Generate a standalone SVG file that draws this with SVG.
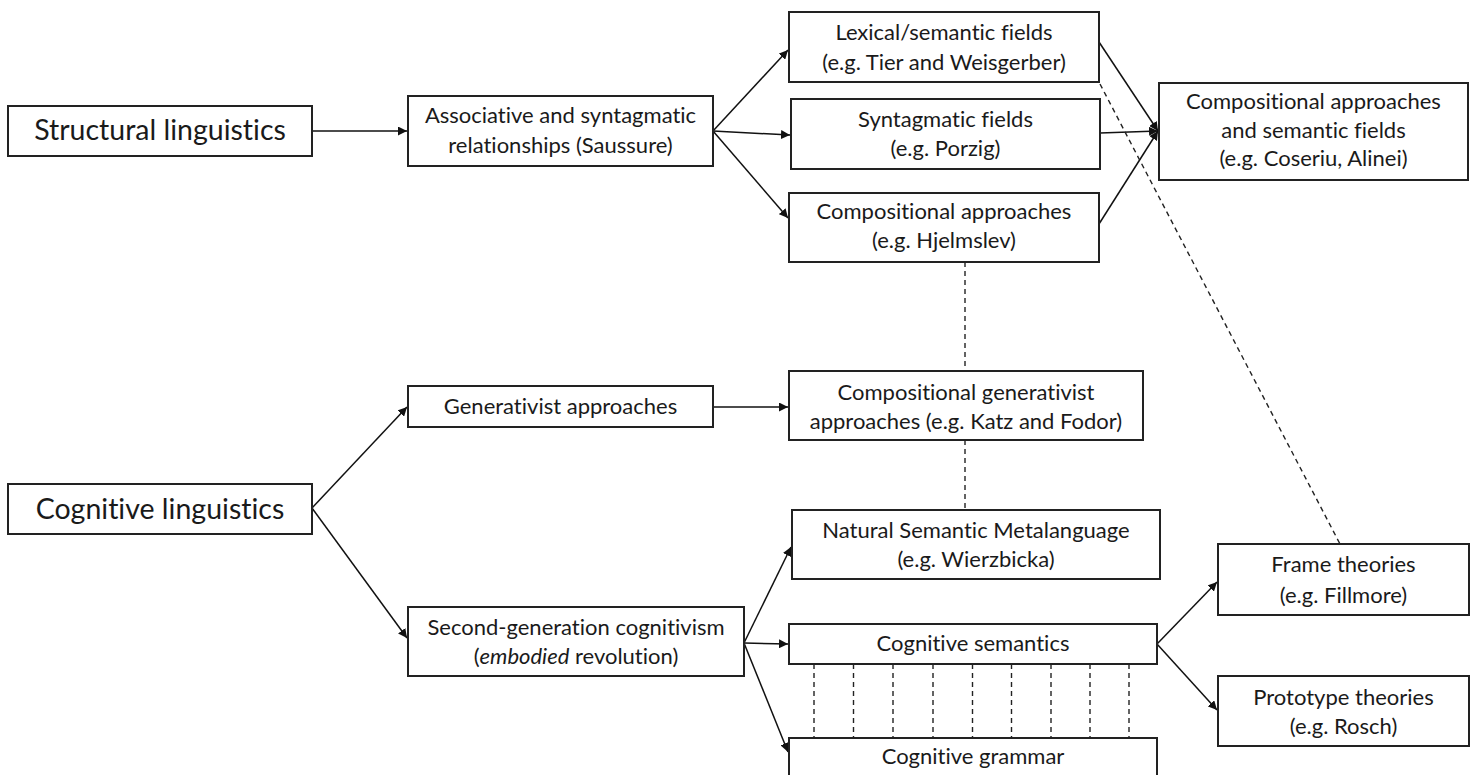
<svg xmlns="http://www.w3.org/2000/svg" width="1475" height="775" viewBox="0 0 1475 775">
  <defs>
    <marker id="arrow" viewBox="0 0 10 10" refX="10" refY="5" markerWidth="9" markerHeight="9" markerUnits="userSpaceOnUse" orient="auto">
      <path d="M0,0 L10,5 L0,10 z" fill="#111"/>
    </marker>
    <style>
      .box { fill: #fff; stroke: #222; stroke-width: 2; }
      .lbl { font-family: Lato, "Liberation Sans", sans-serif; font-size: 22px; fill: #1a1a1a; text-anchor: middle; font-variant-ligatures: none; }
      .big { font-size: 28.5px; }
      .link { fill: none; stroke: #111; stroke-width: 1.5; }
      .arr { marker-end: url(#arrow); }
      .dash { fill: none; stroke: #222; stroke-width: 1.4; stroke-dasharray: 5 4; }
    </style>
  </defs>
  <rect width="1475" height="775" fill="#fff"/>

  <!-- connectors -->
  <g id="connectors">
    <line class="link arr" x1="312" y1="131" x2="407" y2="131"/>
    <line class="link arr" x1="713" y1="131" x2="788" y2="50"/>
    <line class="link arr" x1="713" y1="131" x2="790" y2="135"/>
    <line class="link arr" x1="713" y1="131" x2="788" y2="218"/>
    <line class="link arr" x1="1099" y1="42" x2="1158" y2="131"/>
    <line class="link arr" x1="1100" y1="133" x2="1158" y2="131"/>
    <line class="link arr" x1="1099" y1="224" x2="1158" y2="131"/>
    <line class="dash" x1="1100" y1="84" x2="1340" y2="544"/>
    <line class="dash" x1="965" y1="262" x2="965" y2="371"/>
    <line class="dash" x1="965" y1="440" x2="965" y2="510"/>
    <line class="link arr" x1="312" y1="508" x2="407" y2="407"/>
    <line class="link arr" x1="312" y1="508" x2="407" y2="638"/>
    <line class="link arr" x1="713" y1="407" x2="788" y2="407"/>
    <line class="link arr" x1="744" y1="643" x2="791" y2="547"/>
    <line class="link arr" x1="744" y1="643" x2="788" y2="644"/>
    <line class="link arr" x1="744" y1="643" x2="788" y2="752"/>
    <line class="link arr" x1="1157" y1="644" x2="1217" y2="582"/>
    <line class="link arr" x1="1157" y1="644" x2="1217" y2="710"/>
    <g id="semantics-grammar-ties">
      <line class="dash" x1="814" y1="664" x2="814" y2="738"/>
      <line class="dash" x1="853.5" y1="664" x2="853.5" y2="738"/>
      <line class="dash" x1="893" y1="664" x2="893" y2="738"/>
      <line class="dash" x1="933" y1="664" x2="933" y2="738"/>
      <line class="dash" x1="972.5" y1="664" x2="972.5" y2="738"/>
      <line class="dash" x1="1011.5" y1="664" x2="1011.5" y2="738"/>
      <line class="dash" x1="1051" y1="664" x2="1051" y2="738"/>
      <line class="dash" x1="1090" y1="664" x2="1090" y2="738"/>
      <line class="dash" x1="1129" y1="664" x2="1129" y2="738"/>
    </g>
  </g>

  <g id="structural">
    <rect class="box" x="8" y="106" width="304" height="50"/>
    <text class="lbl big" x="160" y="140">Structural linguistics</text>
  </g>
  <g id="saussure">
    <rect class="box" x="408" y="96" width="305" height="70"/>
    <text class="lbl" x="560.5" y="123">Associative and syntagmatic</text>
    <text class="lbl" x="560.5" y="153">relationships (Saussure)</text>
  </g>
  <g id="lexical-fields">
    <rect class="box" x="789" y="12" width="310" height="70"/>
    <text class="lbl" x="944" y="40">Lexical/semantic fields</text>
    <text class="lbl" x="944" y="70">(e.g. Tier and Weisgerber)</text>
  </g>
  <g id="syntagmatic-fields">
    <rect class="box" x="791" y="99" width="309" height="70"/>
    <text class="lbl" x="945.5" y="127">Syntagmatic fields</text>
    <text class="lbl" x="945.5" y="156">(e.g. Porzig)</text>
  </g>
  <g id="hjelmslev">
    <rect class="box" x="789" y="193" width="310" height="69"/>
    <text class="lbl" x="944" y="219">Compositional approaches</text>
    <text class="lbl" x="944" y="248">(e.g. Hjelmslev)</text>
  </g>
  <g id="coseriu">
    <rect class="box" x="1159" y="83" width="309" height="97"/>
    <text class="lbl" x="1313.5" y="109">Compositional approaches</text>
    <text class="lbl" x="1313.5" y="138">and semantic fields</text>
    <text class="lbl" x="1313.5" y="166">(e.g. Coseriu, Alinei)</text>
  </g>
  <g id="cognitive">
    <rect class="box" x="8" y="484" width="304" height="50"/>
    <text class="lbl big" x="160" y="519">Cognitive linguistics</text>
  </g>
  <g id="generativist">
    <rect class="box" x="408" y="386" width="305" height="41"/>
    <text class="lbl" x="560.5" y="414">Generativist approaches</text>
  </g>
  <g id="katz-fodor">
    <rect class="box" x="789" y="371" width="354" height="69"/>
    <text class="lbl" x="966" y="400">Compositional generativist</text>
    <text class="lbl" x="966" y="429">approaches (e.g. Katz and Fodor)</text>
  </g>
  <g id="second-generation">
    <rect class="box" x="408" y="607" width="336" height="69"/>
    <text class="lbl" x="576" y="635">Second-generation cognitivism</text>
    <text class="lbl" x="576" y="664">(<tspan font-style="italic">embodied</tspan> revolution)</text>
  </g>
  <g id="nsm">
    <rect class="box" x="792" y="510" width="368" height="69"/>
    <text class="lbl" x="976" y="538">Natural Semantic Metalanguage</text>
    <text class="lbl" x="976" y="567">(e.g. Wierzbicka)</text>
  </g>
  <g id="cognitive-semantics">
    <rect class="box" x="789" y="624" width="368" height="40"/>
    <text class="lbl" x="973" y="651">Cognitive semantics</text>
  </g>
  <g id="cognitive-grammar">
    <rect class="box" x="789" y="738" width="368" height="42"/>
    <text class="lbl" x="973" y="764">Cognitive grammar</text>
  </g>
  <g id="frame-theories">
    <rect class="box" x="1218" y="544" width="251" height="71"/>
    <text class="lbl" x="1343.5" y="572">Frame theories</text>
    <text class="lbl" x="1343.5" y="603">(e.g. Fillmore)</text>
  </g>
  <g id="prototype-theories">
    <rect class="box" x="1218" y="676" width="251" height="70"/>
    <text class="lbl" x="1343.5" y="705">Prototype theories</text>
    <text class="lbl" x="1343.5" y="734">(e.g. Rosch)</text>
  </g>
</svg>
